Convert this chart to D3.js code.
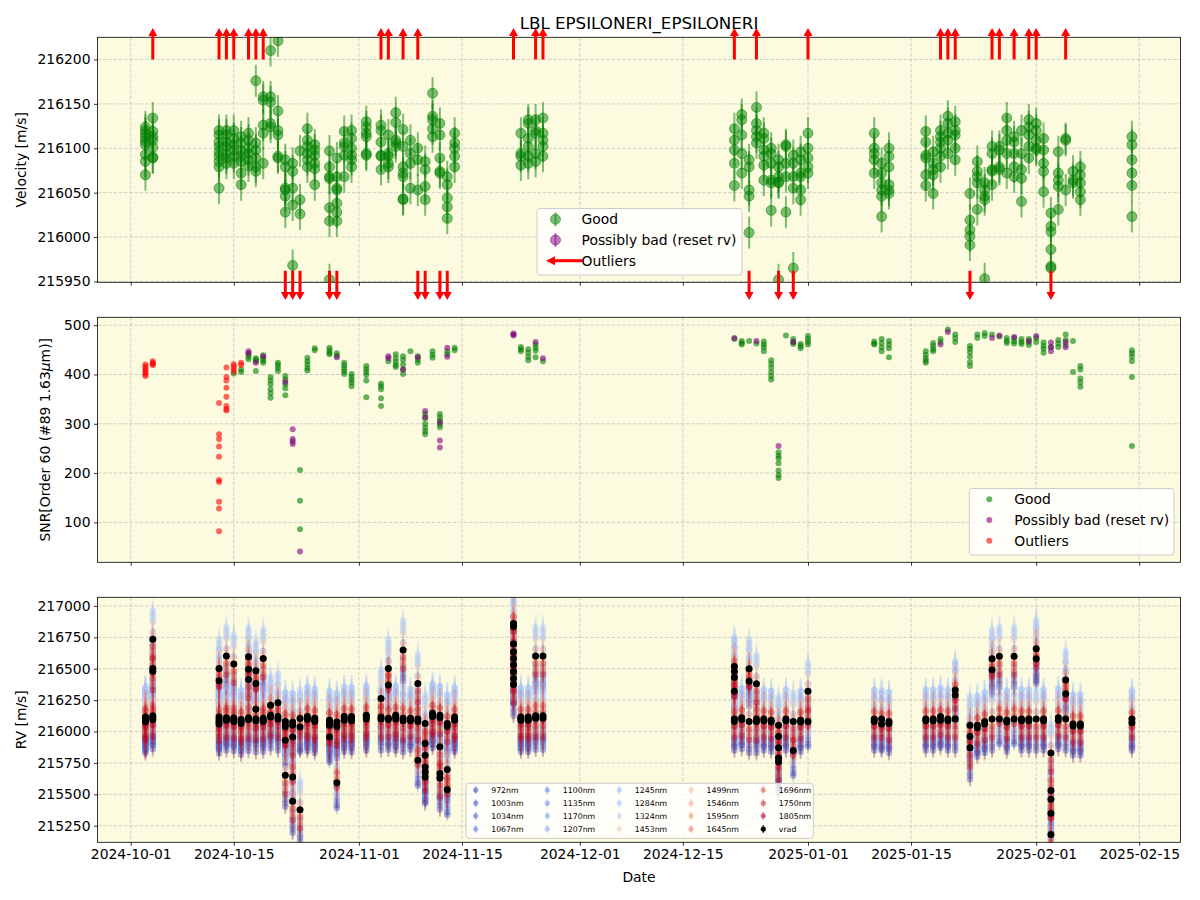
<!DOCTYPE html>
<html>
<head>
<meta charset="utf-8">
<script src="https://cdn.jsdelivr.net/npm/d3@7"></script>
<style>
  body { margin: 0; background: #fff; }
  text { font-family: "DejaVu Sans", sans-serif; }
</style>
</head>
<body>
<svg id="chart" width="1200" height="900"></svg>
<script>
// ---- data ----
const nights = [
  "2024-10-03","2024-10-04","2024-10-13","2024-10-14","2024-10-15","2024-10-16","2024-10-17","2024-10-18",
  "2024-10-19","2024-10-20","2024-10-21","2024-10-22","2024-10-23","2024-10-24","2024-10-25","2024-10-26",
  "2024-10-28","2024-10-29","2024-10-30","2024-10-31","2024-11-02","2024-11-04","2024-11-05","2024-11-06",
  "2024-11-07","2024-11-08","2024-11-09","2024-11-10","2024-11-11","2024-11-12","2024-11-13","2024-11-14",
  "2024-11-22","2024-11-23","2024-11-24","2024-11-25","2024-11-26","2024-12-22","2024-12-23","2024-12-24",
  "2024-12-25","2024-12-26","2024-12-27","2024-12-28","2024-12-29","2024-12-30","2024-12-31","2025-01-01",
  "2025-01-10","2025-01-11","2025-01-12","2025-01-17","2025-01-18","2025-01-19","2025-01-20","2025-01-21",
  "2025-01-23","2025-01-24","2025-01-25","2025-01-26","2025-01-27","2025-01-28","2025-01-29","2025-01-30",
  "2025-01-31","2025-02-01","2025-02-02","2025-02-03","2025-02-04","2025-02-05","2025-02-06","2025-02-07",
  "2025-02-14"
];

// top panel: good velocities per night [m/s]
const velGood = [
  [216124,216120,216116,216112,216108,216104,216093,216085,216070],
  [216134,216119,216113,216109,216101,216090,216089],
  [216120,216115,216107,216102,216096,216091,216085,216079,216055],
  [216120,216115,216107,216102,216094,216089,216083],
  [216120,216111,216104,216098,216091,216083],
  [216113,216106,216097,216091,216085,216072,216059],
  [216117,216109,216100,216094,216087,216080],
  [216176,216106,216098,216089,216079,216074],
  [216158,216154,216126,216117,216083],
  [216210,216158,216152,216128,216124],
  [216221,216142,216120,216115,216091,216089],
  [216087,216079,216055,216053,216046,216028],
  [216083,216074,216055,216036,215968],
  [216097,216042,216026],
  [216122,216109,216102,216094,216087,216079],
  [216104,216098,216092,216083,216077,216059],
  [216097,216079,216068,216066,216033,216018,215952],
  [216089,216068,216055,216053,216038,216028,216018],
  [216119,216106,216102,216092,216068],
  [216120,216111,216100,216092,216087,216079],
  [216130,216124,216117,216113,216094,216092],
  [216126,216120,216107,216092,216091,216076],
  [216115,216094,216091,216083,216079],
  [216140,216129,216109,216106,216102],
  [216121,216102,216079,216072,216068,216043,216042],
  [216109,216094,216083,216055],
  [216100,216087,216053],
  [216085,216076,216057,216042],
  [216162,216136,216132,216122,216113],
  [216128,216115,216089,216074,216072],
  [216068,216059,216044,216034,216021],
  [216117,216106,216100,216091,216079],
  [],
  [216117,216094,216091,216081],
  [216132,216128,216111,216102,216091,216083],
  [216132,216120,216117,216094,216085],
  [216134,216117,216109,216102,216091],
  [216122,216109,216098,216083,216058],
  [216138,216132,216115,216094,216072],
  [216087,216079,216053,216046,216005],
  [216146,216128,216120,216113,216106],
  [216117,216111,216098,216091,216081,216064],
  [216100,216094,216083,216064,216061,216030],
  [216087,216079,216068,216062,216061,215952],
  [216104,216102,216083,216068,216028],
  [216092,216083,216068,216055,215965],
  [216096,216087,216072,216068,216053,216042],
  [216117,216100,216089,216079,216072],
  [216117,216100,216094,216087,216072],
  [216083,216072,216061,216053,216046,216023],
  [216100,216091,216079,216059,216053,216049],
  [216119,216107,216092,216089,216070,216058],
  [216096,216083,216076,216070,216049],
  [216120,216113,216107,216100,216091,216079],
  [216136,216128,216117,216109,216094],
  [216130,216120,216115,216100,216087],
  [216049,216019,216008,216001,215991],
  [216085,216074,216068,216061,216031],
  [216061,216053,216046,216042,215953],
  [216102,216094,216076,216074,216059],
  [216102,216098,216079,216076],
  [216134,216120,216109,216094,216072],
  [216113,216107,216094,216079,216068],
  [216120,216094,216076,216066,216040],
  [216132,216124,216115,216102,216089],
  [216128,216120,216109,216100,216098],
  [216111,216098,216083,216074,216051],
  [216027,216012,216006,215986,215967,215965],
  [216096,216072,216064,216057,216031],
  [216111,216109,216053],
  [216074,216064,216061],
  [216079,216070,216061,216051,216042],
  [216113,216104,216087,216072,216058,216023]
];
const velErr = 18;

const outlierUp = ["2024-10-04","2024-10-13","2024-10-14","2024-10-15","2024-10-17","2024-10-18","2024-10-19",
  "2024-11-04","2024-11-05","2024-11-07","2024-11-09","2024-11-22","2024-11-25","2024-11-26","2024-12-22",
  "2024-12-25","2025-01-01","2025-01-19","2025-01-20","2025-01-21","2025-01-26","2025-01-27","2025-01-29",
  "2025-01-31","2025-02-01","2025-02-05"];
const outlierDown = ["2024-10-22","2024-10-23","2024-10-24","2024-10-28","2024-10-29","2024-11-09","2024-11-10",
  "2024-11-12","2024-11-13","2024-12-24","2024-12-28","2024-12-30","2025-01-23","2025-02-03"];

// middle panel: SNR per night, split by flag
const snrGood = [
  [],[],[],[],[402],[410,405],[441,436,431],[433,430,427,407],
  [439,433,428,424],[395,388,380,370,362,353],[424,419,413,407],[397,390,380,372,358],[],[206,144,86],[434,427,420,413,408],[453,449],
  [454,449,444,441],[443,438],[424,418,412,406,401],[401,395,389,383,376],[417,411,405,399,388,354],[381,376,370,352,336],[427],[441,433,426,419,415],
  [437,430,420,410,401],[447],[437,430,424],[320,311,300,292,285,279],[447,440,434],[320,313,306,299,293],[447,441],[454,449],
  [],[456,451,447],[451,444,436,429],[461,454,448,435],[427],[472],[468,464,461],[468],
  [463],[467,461,455,447],[429,422,414,405,397,390],[242,235,230,220,205,196,190],[479],[472,466,462],[462,458,453],[478,472,466,461],
  [467,463,461],[472,464,455,447],[468,461,453,435],[447,440,433,428,424],[464,458,451,447],[472,466],[491],[481,474,466],
  [458,452,445,436,425,417],[481,474],[484,478],[481],[477],[474,468,464],[474,467,463],[472,466,462],
  [472,466,460],[474,466],[465,458,452,444],[456],[470,463,456],[481,470,460],[468,405],[417,410,392,384,375],
  [449,443,436,427,395,255]
];
const snrBad = [
  [],[],[],[],[],[],[447,443],[424],
  [437],[],[],[385],[289,269,264,259],[41],[],[],
  [],[435],[],[],[],[],[437,433],[],
  [410],[],[435],[326,313],[],[303,266,252],[454,436],[],
  [483,481,479],[],[],[466],[433],[474],[],[],
  [468],[],[],[255],[],[466],[],[],
  [],[],[],[],[],[461],[486],[],
  [],[],[],[474],[479],[],[476],[],
  [468],[478],[],[465,455,447],[],[466,455],[],[],
  []
];
const snrOut = [
  [420,416,412,408,404,400,397],[427,424,421,419],[342,279,269,254,233,186,182,142,128,82],
  [414,395,388,373,355,336,330,327],[421,416,411,406],[424,419]
];

// bottom panel: vrad per exposure, and per-band offsets from vrad
const vrad = [
  [216115,216105,216095,216085,216078],
  [216734,216503,216481,216125,216110,216095],
  [216503,216404,216115,216095,216075,216060],
  [216601,216110,216100,216090],
  [216537,216110,216095,216080],
  [216095,216080,216065],
  [216596,216497,216415,216110,216095],
  [216484,216383,216178,216100,216085],
  [216582,216105,216090,216080],
  [216210,216130,216115],
  [216229,216120,216100],
  [216080,216060,216040,215931,215651],
  [216075,216050,215957,215638,215444],
  [216104,216037,215377],
  [216120,216105,216095],
  [216105,216090,216080],
  [216090,216070,216050,215957],
  [216075,216055,216040,215593],
  [216120,216105,216090],
  [216120,216100,216085],
  [216130,216115,216100],
  [216263,216115,216100],
  [216503,216370,216105,216095],
  [216130,216115,216100],
  [216649,216105,216085],
  [216105,216085],
  [216383,216100,216080,215771],
  [216064,215904,215811,215718,215678,215638],
  [216145,216130,216120],
  [216130,216110,215878,215665,215630],
  [216064,216040,215697,215537],
  [216115,216100,216090],
  [216860,216835,216697,216636,216582,216529,216476,216423,216375],
  [216115,216100,216090],
  [216115,216100,216090],
  [216601,216125,216105],
  [216601,216125,216105],
  [216520,216480,216430,216320,216100,216080],
  [216110,216095],
  [216500,216400,216080],
  [216380,216100,216080],
  [216100,216085],
  [216090,216075],
  [216050,215960,215870,215790,215760],
  [216100,216085],
  [216080,215850],
  [216090,216075],
  [216320,216080],
  [216100,216080],
  [216100,216060],
  [216080,216065],
  [216100,216085],
  [216100,216085],
  [216120,216090],
  [216100,216085],
  [216330,216290,216100],
  [216050,215960,215870],
  [216050,216030],
  [216080,216060],
  [216580,216490,216100],
  [216600,216100],
  [216090,216075],
  [216600,216100],
  [216100,216085],
  [216100,216085],
  [216660,216580,216100],
  [216100,216085],
  [215830,215530,215460,215350,215180],
  [216110,216090],
  [216410,216300,216100],
  [216060,216045],
  [216060,216045],
  [216100,216070]
];
const vradErr = 15;

const bands = ["972nm","1003nm","1034nm","1067nm","1100nm","1135nm","1170nm","1207nm","1245nm","1284nm",
  "1324nm","1453nm","1499nm","1546nm","1595nm","1645nm","1696nm","1750nm","1805nm"];
const bandOffsetA = [-250,-220,-200,-170,-130,-80,60,150,200,230,180,130,50,0,-40,-90,-120,-60,-150];
const bandOffsetB = [-200,-180,-150,-120,-80,-30,120,200,250,180,140,80,100,60,20,-20,30,80,-40];
const bandErr = [50,50,50,55,60,60,70,80,100,100,100,90,90,90,100,110,130,150,160];

const xTickDates = ["2024-10-01","2024-10-15","2024-11-01","2024-11-15","2024-12-01","2024-12-15",
  "2025-01-01","2025-01-15","2025-02-01","2025-02-15"];
const velTicks = [215950, 216000, 216050, 216100, 216150, 216200];
const snrTicks = [100, 200, 300, 400, 500];
const rvTicks = [215250, 215500, 215750, 216000, 216250, 216500, 216750, 217000];

// ---- layout ----
const parse = d3.utcParse("%Y-%m-%d");
const xLeft = 97.5, xRight = 1180.5;
const P1 = { top: 37.3, bottom: 282.3 };
const P2 = { top: 317.3, bottom: 562.3 };
const P3 = { top: 597.3, bottom: 842.3 };
const fontSize = 13.9;
const bg = "#fcfbe0";

const x = d3.scaleUtc()
  .domain([new Date(Date.UTC(2024, 8, 26, 11, 45)), new Date(Date.UTC(2025, 1, 20, 14, 24))])
  .range([xLeft, xRight]);
const yVel = d3.scaleLinear().domain([215949, 216225]).range([P1.bottom, P1.top]);
const ySnr = d3.scaleLinear().domain([19, 516]).range([P2.bottom, P2.top]);
const yRv = d3.scaleLinear().domain([215118, 217069]).range([P3.bottom, P3.top]);

// coolwarm, mapped by wavelength
const coolwarm = d3.piecewise(d3.interpolateRgb, ["#3b4cc0", "#5572df", "#7396f5", "#90b2fe", "#aec9fc",
  "#dddcdc", "#f2cbb7", "#f5ac8e", "#ea8468", "#d24b40", "#b40426"]);
const waves = bands.map(b => parseInt(b));
const wScale = d3.scaleLinear().domain(d3.extent(waves)).range([0, 1]);
const bandColor = i => coolwarm(wScale(waves[i]));

const svg = d3.select("#chart");
const defs = svg.append("defs");

function panel(P, y, yTicks, name) {
  const g = svg.append("g");
  g.append("rect").attr("x", xLeft).attr("y", P.top).attr("width", xRight - xLeft)
    .attr("height", P.bottom - P.top).attr("fill", bg);
  defs.append("clipPath").attr("id", "clip-" + name).append("rect")
    .attr("x", xLeft).attr("y", P.top).attr("width", xRight - xLeft).attr("height", P.bottom - P.top);
  const grid = g.append("g").attr("stroke", "#b0b0b0").attr("stroke-opacity", 0.7)
    .attr("stroke-width", 0.8).attr("stroke-dasharray", "3.7,1.6");
  grid.selectAll(".gx").data(xTickDates).join("line")
    .attr("x1", d => x(parse(d))).attr("x2", d => x(parse(d))).attr("y1", P.top).attr("y2", P.bottom);
  grid.selectAll(".gy").data(yTicks).join("line")
    .attr("x1", xLeft).attr("x2", xRight).attr("y1", d => y(d)).attr("y2", d => y(d));
  const data = g.append("g").attr("clip-path", `url(#clip-${name})`);
  return data;
}

function frame(P, y, yTicks, showDates) {
  const g = svg.append("g").attr("font-size", fontSize).attr("font-family", "DejaVu Sans");
  const ax = g.append("g").attr("transform", `translate(0,${P.bottom})`)
    .call(d3.axisBottom(x).tickValues(xTickDates.map(parse)).tickSize(3.5).tickPadding(3.5)
      .tickFormat(showDates ? d3.utcFormat("%Y-%m-%d") : () => ""));
  const ay = g.append("g").attr("transform", `translate(${xLeft},0)`)
    .call(d3.axisLeft(y).tickValues(yTicks).tickSize(3.5).tickPadding(3.5).tickFormat(d3.format("d")));
  [ax, ay].forEach(a => {
    a.select(".domain").remove();
    a.selectAll(".tick line").attr("stroke", "#000").attr("stroke-width", 0.8);
    a.selectAll(".tick text").attr("fill", "#000").attr("font-size", fontSize).attr("font-family", "DejaVu Sans");
  });
  g.append("rect").attr("x", xLeft).attr("y", P.top).attr("width", xRight - xLeft)
    .attr("height", P.bottom - P.top).attr("fill", "none").attr("stroke", "#000").attr("stroke-width", 0.8);
}

function arrow(g, x0, yBase, yTip, color, width) {
  const dir = Math.sign(yTip - yBase);
  const head = 8;
  g.append("line").attr("x1", x0).attr("x2", x0).attr("y1", yBase).attr("y2", yTip - dir * head)
    .attr("stroke", color).attr("stroke-width", width);
  g.append("path")
    .attr("d", `M${x0 - 4.5},${yTip - dir * head} L${x0 + 4.5},${yTip - dir * head} L${x0},${yTip} Z`)
    .attr("fill", color);
}

// ---- panel 1: velocity ----
const d1 = panel(P1, yVel, velTicks, "p1");
nights.forEach((n, i) => {
  const xx = x(parse(n));
  velGood[i].forEach(v => {
    d1.append("line").attr("x1", xx).attr("x2", xx).attr("y1", yVel(v - velErr)).attr("y2", yVel(v + velErr))
      .attr("stroke", "green").attr("stroke-opacity", 0.5).attr("stroke-width", 2);
  });
  velGood[i].forEach(v => {
    d1.append("circle").attr("cx", xx).attr("cy", yVel(v)).attr("r", 5)
      .attr("fill", "green").attr("fill-opacity", 0.5)
      .attr("stroke", "green").attr("stroke-opacity", 0.5).attr("stroke-width", 1);
  });
});
frame(P1, yVel, velTicks, false);

const arrowsG = svg.append("g");
outlierUp.forEach(d => arrow(arrowsG, x(parse(d)), yVel(216200), 28, "red", 3));
outlierDown.forEach(d => arrow(arrowsG, x(parse(d)), yVel(215962), 300, "red", 3));

// ---- panel 2: SNR ----
const d2 = panel(P2, ySnr, snrTicks, "p2");
[[snrGood, "green"], [snrBad, "purple"], [snrOut, "red"]].forEach(([arr, col]) => {
  arr.forEach((vals, i) => {
    const xx = x(parse(nights[i]));
    vals.forEach(v => {
      d2.append("circle").attr("cx", xx).attr("cy", ySnr(v)).attr("r", 3)
        .attr("fill", col).attr("fill-opacity", 0.6);
    });
  });
});
frame(P2, ySnr, snrTicks, false);

// ---- panel 3: RV per wavelength ----
const d3p = panel(P3, yRv, rvTicks, "p3");
bands.forEach((b, bi) => {
  const col = bandColor(bi);
  nights.forEach((n, i) => {
    const xx = x(parse(n));
    vrad[i].forEach((v, j) => {
      const rv = v + (j % 2 === 0 ? bandOffsetA[bi] : bandOffsetB[bi]);
      d3p.append("line").attr("x1", xx).attr("x2", xx)
        .attr("y1", yRv(rv - bandErr[bi])).attr("y2", yRv(rv + bandErr[bi]))
        .attr("stroke", col).attr("stroke-opacity", 0.22).attr("stroke-width", 2);
      d3p.append("circle").attr("cx", xx).attr("cy", yRv(rv)).attr("r", 3.3)
        .attr("fill", col).attr("fill-opacity", 0.4);
    });
  });
});
nights.forEach((n, i) => {
  const xx = x(parse(n));
  vrad[i].forEach(v => {
    d3p.append("line").attr("x1", xx).attr("x2", xx).attr("y1", yRv(v - vradErr)).attr("y2", yRv(v + vradErr))
      .attr("stroke", "#000").attr("stroke-width", 1.5);
    d3p.append("circle").attr("cx", xx).attr("cy", yRv(v)).attr("r", 3.5).attr("fill", "#000");
  });
});
frame(P3, yRv, rvTicks, true);

// ---- legends ----
function legendBox(x0, y0, w, h) {
  svg.append("rect").attr("x", x0).attr("y", y0).attr("width", w).attr("height", h).attr("rx", 3)
    .attr("fill", "#fff").attr("fill-opacity", 0.8).attr("stroke", "#cccccc").attr("stroke-width", 1);
}

legendBox(537, 208.5, 205, 66.5);
[["Good", "green", 219.3], ["Possibly bad (reset rv)", "purple", 240]].forEach(([t, c, yy]) => {
  svg.append("line").attr("x1", 555.5).attr("x2", 555.5).attr("y1", yy - 7).attr("y2", yy + 7)
    .attr("stroke", c).attr("stroke-opacity", 0.5).attr("stroke-width", 2);
  svg.append("circle").attr("cx", 555.5).attr("cy", yy).attr("r", 5).attr("fill", c).attr("fill-opacity", 0.5)
    .attr("stroke", c).attr("stroke-opacity", 0.5);
  svg.append("text").attr("x", 581.5).attr("y", yy + 4.9).attr("font-size", fontSize).text(t);
});
(function () {
  const yy = 260.7;
  svg.append("line").attr("x1", 583).attr("x2", 554).attr("y1", yy).attr("y2", yy).attr("stroke", "red").attr("stroke-width", 3);
  svg.append("path").attr("d", `M555,${yy - 4.5} L555,${yy + 4.5} L546,${yy} Z`).attr("fill", "red");
  svg.append("text").attr("x", 581.5).attr("y", yy + 4.9).attr("font-size", fontSize).text("Outliers");
})();

legendBox(969.3, 488.5, 204.7, 66.5);
[["Good", "green", 499.3], ["Possibly bad (reset rv)", "purple", 520], ["Outliers", "red", 540.7]].forEach(([t, c, yy]) => {
  svg.append("circle").attr("cx", 989.3).attr("cy", yy).attr("r", 3).attr("fill", c).attr("fill-opacity", 0.6);
  svg.append("text").attr("x", 1014.3).attr("y", yy + 4.9).attr("font-size", fontSize).text(t);
});

legendBox(466, 783.3, 347.3, 55);
const legItems = bands.map((b, i) => ({ label: b, color: bandColor(i), alpha: 0.55 }))
  .concat([{ label: "vrad", color: "#000", alpha: 1 }]);
const colX = [475.7, 547.3, 619.3, 691, 763.3];
const rowY = [790, 803.2, 815.8, 829];
legItems.forEach((it, k) => {
  const cx = colX[Math.floor(k / 4)], cy = rowY[k % 4];
  svg.append("line").attr("x1", cx).attr("x2", cx).attr("y1", cy - 4).attr("y2", cy + 4)
    .attr("stroke", it.color).attr("stroke-opacity", it.alpha * 0.7).attr("stroke-width", 1.5);
  svg.append("circle").attr("cx", cx).attr("cy", cy).attr("r", 2.6).attr("fill", it.color).attr("fill-opacity", it.alpha);
  svg.append("text").attr("x", cx + 15.5).attr("y", cy + 2.8).attr("font-size", 7.8).text(it.label);
});

// ---- titles and labels ----
svg.append("text").attr("x", 639).attr("y", 29).attr("text-anchor", "middle").attr("font-size", 16.7)
  .text("LBL EPSILONERI_EPSILONERI");
svg.append("text").attr("x", 639).attr("y", 882).attr("text-anchor", "middle").attr("font-size", fontSize).text("Date");
svg.append("text").attr("transform", `translate(25.6,${(P1.top + P1.bottom) / 2}) rotate(-90)`)
  .attr("text-anchor", "middle").attr("font-size", fontSize).text("Velocity [m/s]");
const snrLabel = svg.append("text").attr("transform", `translate(50,${(P2.top + P2.bottom) / 2}) rotate(-90)`)
  .attr("text-anchor", "middle").attr("font-size", fontSize);
snrLabel.append("tspan").text("SNR[Order 60 (#89 1.63");
snrLabel.append("tspan").attr("font-style", "italic").text("\u03bc");
snrLabel.append("tspan").text("m)]");
svg.append("text").attr("transform", `translate(25.6,${(P3.top + P3.bottom) / 2}) rotate(-90)`)
  .attr("text-anchor", "middle").attr("font-size", fontSize).text("RV [m/s]");
</script>
</body>
</html>
